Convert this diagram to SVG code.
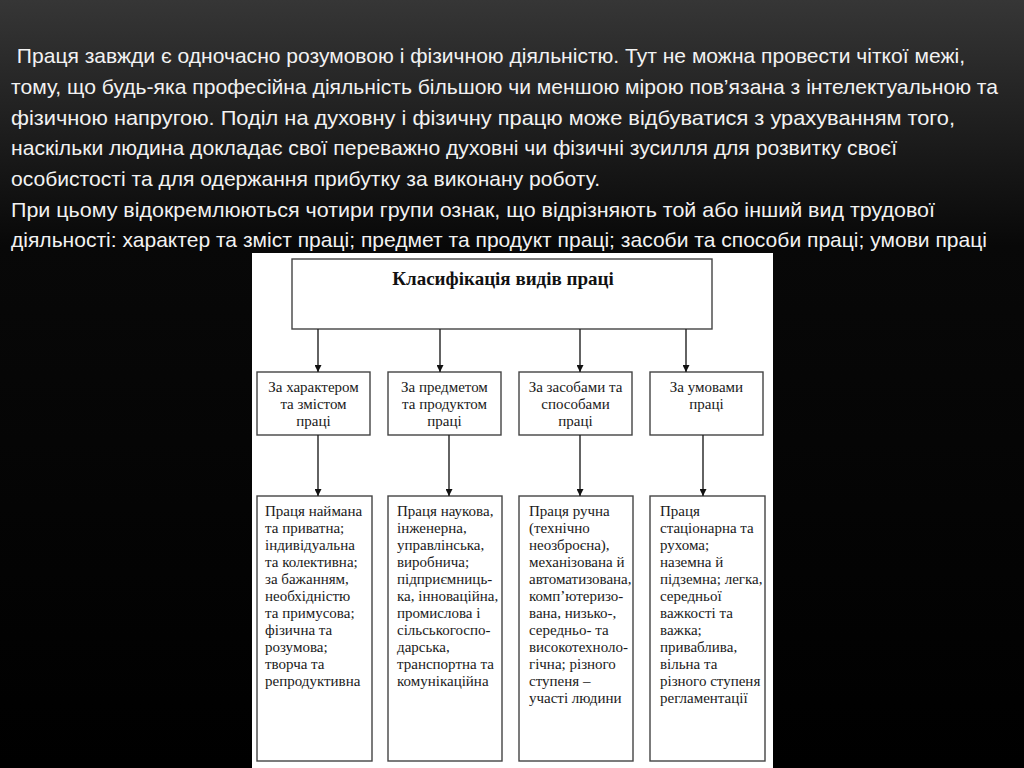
<svg xmlns="http://www.w3.org/2000/svg" width="1024" height="768" viewBox="0 0 1024 768">
<defs>
<linearGradient id="bg" x1="0" y1="0" x2="0" y2="1">
<stop offset="0" stop-color="#363636"/>
<stop offset="0.32" stop-color="#080808"/>
<stop offset="1" stop-color="#000"/>
</linearGradient>
<marker id="ah" viewBox="0 0 10 10" refX="10" refY="5" markerWidth="7" markerHeight="7" markerUnits="userSpaceOnUse" orient="auto">
<path d="M0,0 L10,5 L0,10 z" fill="#111"/>
</marker>
<style>
.intro{font-family:"Liberation Sans","Arial",sans-serif;font-size:21px;fill:#f2f2f2}
.box{fill:#fff;stroke:#444;stroke-width:1.4}
.t{font-family:"Liberation Serif","Times New Roman",serif;font-size:15px;fill:#1a1a1a}
.c{text-anchor:middle}
.title{font-family:"Liberation Serif","Times New Roman",serif;font-size:19px;font-weight:bold;fill:#111;text-anchor:middle}
.conn line{stroke:#222;stroke-width:1.4;marker-end:url(#ah)}
</style>
</defs>
<rect width="1024" height="768" fill="url(#bg)"/>
<g id="intro" class="intro">
<text x="11" y="63" xml:space="preserve" textLength="954" lengthAdjust="spacingAndGlyphs"> Праця завжди є одночасно розумовою і фізичною діяльністю. Тут не можна провести чіткої межі,</text>
<text x="11" y="94" textLength="987" lengthAdjust="spacingAndGlyphs">тому, що будь-яка професійна діяльність більшою чи меншою мірою пов’язана з інтелектуальною та</text>
<text x="11" y="125" textLength="944" lengthAdjust="spacingAndGlyphs">фізичною напругою. Поділ на духовну і фізичну працю може відбуватися з урахуванням того,</text>
<text x="11" y="155" textLength="886" lengthAdjust="spacingAndGlyphs">наскільки людина докладає свої переважно духовні чи фізичні зусилля для розвитку своєї</text>
<text x="11" y="186" textLength="589" lengthAdjust="spacingAndGlyphs">особистості та для одержання прибутку за виконану роботу.</text>
<text x="11" y="217" textLength="924" lengthAdjust="spacingAndGlyphs">При цьому відокремлюються чотири групи ознак, що відрізняють той або інший вид трудової</text>
<text x="11" y="247" textLength="976" lengthAdjust="spacingAndGlyphs">діяльності: характер та зміст праці; предмет та продукт праці; засоби та способи праці; умови праці</text>
</g>
<rect id="panel" x="252" y="253" width="521" height="515" fill="#fff"/>
<g id="root">
<rect class="box" x="292" y="259" width="420" height="70"/>
<text class="title" x="503" y="285">Класифікація видів праці</text>
</g>
<g id="cat1">
<rect class="box" x="257" y="372" width="113" height="63"/>
<text class="t c" x="313.5" y="392">За характером</text>
<text class="t c" x="313.5" y="409">та змістом</text>
<text class="t c" x="313.5" y="426">праці</text>
</g>
<g id="cat2">
<rect class="box" x="388" y="372" width="113" height="63"/>
<text class="t c" x="444.5" y="392">За предметом</text>
<text class="t c" x="444.5" y="409">та продуктом</text>
<text class="t c" x="444.5" y="426">праці</text>
</g>
<g id="cat3">
<rect class="box" x="519" y="372" width="113" height="63"/>
<text class="t c" x="575.5" y="392">За засобами та</text>
<text class="t c" x="575.5" y="409">способами</text>
<text class="t c" x="575.5" y="426">праці</text>
</g>
<g id="cat4">
<rect class="box" x="650" y="372" width="113" height="63"/>
<text class="t c" x="706.5" y="392">За умовами</text>
<text class="t c" x="706.5" y="409">праці</text>
</g>
<g id="det1">
<rect class="box" x="257" y="496" width="115" height="265"/>
<text class="t" x="265" y="516">Праця наймана</text>
<text class="t" x="265" y="533">та приватна;</text>
<text class="t" x="265" y="550">індивідуальна</text>
<text class="t" x="265" y="567">та колективна;</text>
<text class="t" x="265" y="584">за бажанням,</text>
<text class="t" x="265" y="601">необхідністю</text>
<text class="t" x="265" y="618">та примусова;</text>
<text class="t" x="265" y="635">фізична та</text>
<text class="t" x="265" y="652">розумова;</text>
<text class="t" x="265" y="669">творча та</text>
<text class="t" x="265" y="686">репродуктивна</text>
</g>
<g id="det2">
<rect class="box" x="388" y="496" width="114" height="265"/>
<text class="t" x="397" y="516">Праця наукова,</text>
<text class="t" x="397" y="533">інженерна,</text>
<text class="t" x="397" y="550">управлінська,</text>
<text class="t" x="397" y="567">виробнича;</text>
<text class="t" x="397" y="584">підприємниць-</text>
<text class="t" x="397" y="601">ка, інноваційна,</text>
<text class="t" x="397" y="618">промислова і</text>
<text class="t" x="397" y="635">сільськогоспо-</text>
<text class="t" x="397" y="652">дарська,</text>
<text class="t" x="397" y="669">транспортна та</text>
<text class="t" x="397" y="686">комунікаційна</text>
</g>
<g id="det3">
<rect class="box" x="519" y="496" width="114" height="265"/>
<text class="t" x="529" y="516">Праця ручна</text>
<text class="t" x="529" y="533">(технічно</text>
<text class="t" x="529" y="550">неозброєна),</text>
<text class="t" x="529" y="567">механізована й</text>
<text class="t" x="529" y="584">автоматизована,</text>
<text class="t" x="529" y="601">комп’ютеризо-</text>
<text class="t" x="529" y="618">вана, низько-,</text>
<text class="t" x="529" y="635">середньо- та</text>
<text class="t" x="529" y="652">високотехноло-</text>
<text class="t" x="529" y="669">гічна; різного</text>
<text class="t" x="529" y="686">ступеня –</text>
<text class="t" x="529" y="703">участі людини</text>
</g>
<g id="det4">
<rect class="box" x="650" y="496" width="115" height="265"/>
<text class="t" x="660" y="516">Праця</text>
<text class="t" x="660" y="533">стаціонарна та</text>
<text class="t" x="660" y="550">рухома;</text>
<text class="t" x="660" y="567">наземна й</text>
<text class="t" x="660" y="584">підземна; легка,</text>
<text class="t" x="660" y="601">середньої</text>
<text class="t" x="660" y="618">важкості та</text>
<text class="t" x="660" y="635">важка;</text>
<text class="t" x="660" y="652">приваблива,</text>
<text class="t" x="660" y="669">вільна та</text>
<text class="t" x="660" y="686">різного ступеня</text>
<text class="t" x="660" y="703">регламентації</text>
</g>
<g id="connectors" class="conn">
<line x1="318" y1="329" x2="318" y2="372"/>
<line x1="440" y1="329" x2="440" y2="372"/>
<line x1="580" y1="329" x2="580" y2="372"/>
<line x1="686" y1="329" x2="686" y2="372"/>
<line x1="318" y1="435" x2="318" y2="496"/>
<line x1="449" y1="435" x2="449" y2="496"/>
<line x1="580" y1="435" x2="580" y2="496"/>
<line x1="703" y1="435" x2="703" y2="496"/>
</g>
</svg>
